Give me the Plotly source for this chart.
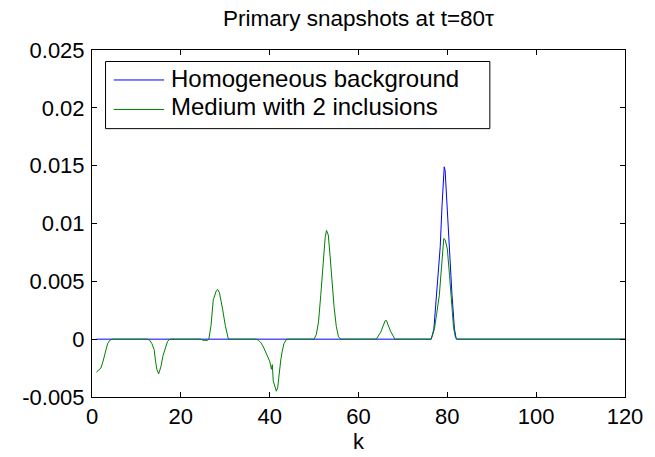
import plotly.graph_objects as go

# Homogeneous background (blue)
k_homog = [1, 76.4, 76.97, 77.6, 78.0, 78.4, 78.8, 79.1, 79.3, 79.5, 79.8, 80.3, 80.7, 81.05, 81.6, 82.0, 120]
u_homog = [0, 0, 0.0009, 0.0038, 0.0060, 0.0080, 0.0115, 0.0140, 0.0149, 0.0146, 0.0125, 0.0080, 0.0055, 0.0038, 0.0009, 0, 0]

# Medium with 2 inclusions (green)
k_incl = [1, 1.5, 2, 2.5, 3, 3.5, 4, 4.5,
          12.5, 13, 13.5, 14, 14.3, 14.6, 15, 15.5, 16, 16.5, 17, 17.5,
          24.5, 25, 26, 26.3, 26.8, 27.3, 28, 28.3, 28.7, 29.4, 30, 30.7,
          37, 37.5, 38, 38.5, 39, 39.5, 40, 40.4, 40.6, 40.8, 41.1, 41.5, 41.8, 42.1, 42.5, 42.8, 43.2, 43.8,
          50, 50.5, 51, 51.5, 52, 52.5, 52.8, 53.2, 53.6, 54, 54.5, 55, 55.5, 56,
          64, 65, 66, 66.3, 67.2, 68.2,
          76.3, 76.8, 77.1, 77.6, 78.2, 78.6, 79.0, 79.2, 79.5, 80.0, 80.5, 80.9, 81.4, 81.8, 82.2,
          120]
u_incl = [-0.00285, -0.0027, -0.0025, -0.0019, -0.0010, -0.0004, -0.0001, 0,
          0, -0.0001, -0.0004, -0.0009, -0.0019, -0.0026, -0.0030, -0.0024, -0.0014, -0.0007, -0.0002, 0,
          0, -0.0001, -0.0001, 0, 0.0012, 0.0034, 0.0042, 0.0043, 0.0040, 0.0026, 0.0012, 0,
          0, -0.0001, -0.0003, -0.0006, -0.0010, -0.0014, -0.0019, -0.0026, -0.0022, -0.0036, -0.0040, -0.0045, -0.0042, -0.0030, -0.0018, -0.0011, -0.0004, 0,
          0, 0.0004, 0.0015, 0.0038, 0.0065, 0.0088, 0.0094, 0.0090, 0.0072, 0.0050, 0.0028, 0.0011, 0.0002, 0,
          0, 0.0006, 0.0016, 0.0016, 0.0007, 0,
          0, 0.0005, 0.0009, 0.0022, 0.0038, 0.0058, 0.0080, 0.0087, 0.0086, 0.0078, 0.0055, 0.0036, 0.0010, 0.0002, 0,
          0]

series_names = ["Homogeneous background", "Medium with 2 inclusions"]
series_colors = ["#0000ff", "#008000"]

x_ticks = [0, 20, 40, 60, 80, 100, 120]
y_ticks = [-0.005, 0, 0.005, 0.01, 0.015, 0.02, 0.025]
y_tick_labels = ["-0.005", "0", "0.005", "0.01", "0.015", "0.02", "0.025"]

FONT = "Liberation Sans, Arial, sans-serif"

fig = go.Figure()
fig.add_trace(go.Scatter(x=k_homog, y=u_homog, mode="lines", name=series_names[0],
                         line=dict(color=series_colors[0], width=1), showlegend=False))
fig.add_trace(go.Scatter(x=k_incl, y=u_incl, mode="lines", name=series_names[1],
                         line=dict(color=series_colors[1], width=1), showlegend=False))

# MATLAB-style legend box drawn in paper coordinates
leg_x0, leg_x1, leg_y0, leg_y1 = 0.0254, 0.7464, 0.7734, 0.9669
row_line_y = [0.9136, 0.8286]
row_text_y = [0.919, 0.838]
fig.add_shape(type="rect", xref="paper", yref="paper", x0=leg_x0, x1=leg_x1, y0=leg_y0, y1=leg_y1,
              line=dict(color="black", width=1), fillcolor="white", layer="above")
for name, color, ly, ty in zip(series_names, series_colors, row_line_y, row_text_y):
    fig.add_shape(type="line", xref="paper", yref="paper", x0=0.0408, x1=0.1354, y0=ly, y1=ly,
                  line=dict(color=color, width=1), layer="above")
    fig.add_annotation(xref="paper", yref="paper", x=0.1440, y=ty, text=name,
                       showarrow=False, xanchor="left", yanchor="middle",
                       font=dict(family=FONT, size=24, color="black"))

axis_common = dict(showline=True, linecolor="black", linewidth=1, mirror="allticks",
                   ticks="inside", ticklen=5, tickcolor="black", showgrid=False,
                   zeroline=False, tickfont=dict(family=FONT, size=22, color="black"))

fig.update_layout(
    width=655, height=457,
    margin=dict(l=92, r=24, t=50, b=54),
    paper_bgcolor="white", plot_bgcolor="white",
    title=dict(text="Primary snapshots at t=80\u03c4", x=0.5, xref="paper", xanchor="center",
               y=0.96, yanchor="middle",
               font=dict(family=FONT, size=22.5, color="black")),
    xaxis=dict(range=[0, 120], tickvals=x_ticks,
               title=dict(text="k", font=dict(family=FONT, size=22, color="black"), standoff=0),
               **axis_common),
    yaxis=dict(range=[-0.005, 0.025], tickvals=y_ticks, ticktext=y_tick_labels,
               ticklabelstandoff=2, **axis_common),
    showlegend=False,
)

fig.write_html("out.html")
